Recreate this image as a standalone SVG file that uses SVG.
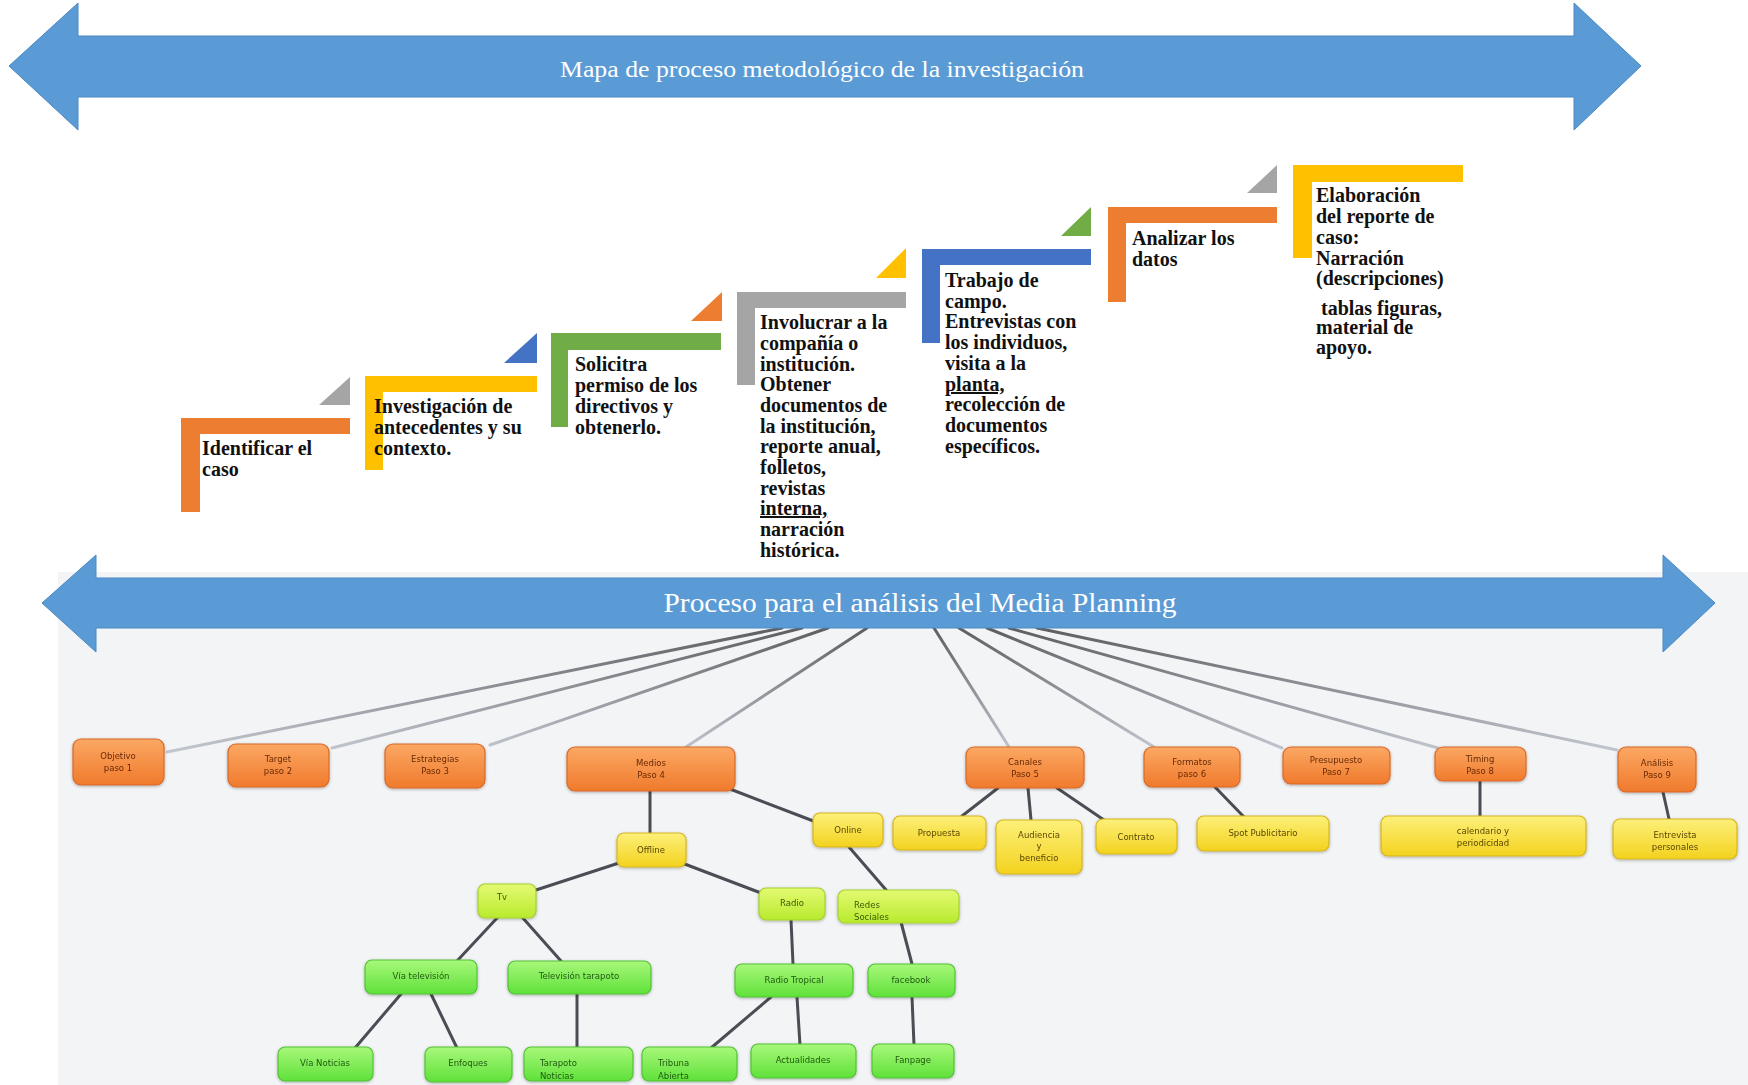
<svg xmlns="http://www.w3.org/2000/svg" width="1748" height="1085" viewBox="0 0 1748 1085">
<defs>
<style>
.arrow{fill:#5B9BD5;stroke:#4a88c4;stroke-width:1}
.atxt{font-family:"Liberation Serif","Times New Roman",serif;fill:#fff;text-anchor:middle}
.st{font-family:"Liberation Serif","Times New Roman",serif;font-size:20px;font-weight:bold;fill:#111}
.nt{font-family:"DejaVu Sans","Liberation Sans",sans-serif;font-size:8.5px;text-anchor:middle}
.ntl{font-family:"DejaVu Sans","Liberation Sans",sans-serif;font-size:8.5px}
.on rect{fill:url(#gOr);stroke:#d8692a;stroke-width:1.2}
.on text{fill:#6a2a05}
.yn rect{fill:url(#gYe);stroke:#d6b51e;stroke-width:1.2}
.yn text{fill:#5a4800}
.ln rect{fill:url(#gLi);stroke:#a4d12e;stroke-width:1.2}
.ln text{fill:#3d5a00}
.gn rect{fill:url(#gGr);stroke:#52c236;stroke-width:1.2}
.gn text{fill:#1f5a10}
.fan line{stroke:url(#gFan);stroke-width:3;stroke-linecap:round}
.tree line{stroke:#4b4d55;stroke-width:3;stroke-linecap:round}
</style>
<linearGradient id="gOr" x1="0" y1="0" x2="0" y2="1"><stop offset="0" stop-color="#fba864"/><stop offset="1" stop-color="#f07a2c"/></linearGradient>
<linearGradient id="gYe" x1="0" y1="0" x2="0" y2="1"><stop offset="0" stop-color="#fdf07a"/><stop offset="1" stop-color="#f3d21e"/></linearGradient>
<linearGradient id="gLi" x1="0" y1="0" x2="0" y2="1"><stop offset="0" stop-color="#e4fa72"/><stop offset="1" stop-color="#b8ea2e"/></linearGradient>
<linearGradient id="gGr" x1="0" y1="0" x2="0" y2="1"><stop offset="0" stop-color="#a8f87a"/><stop offset="1" stop-color="#5fe13a"/></linearGradient>
<linearGradient id="gFan" gradientUnits="userSpaceOnUse" x1="0" y1="628" x2="0" y2="760"><stop offset="0" stop-color="#5e5e62"/><stop offset="1" stop-color="#c9ced6"/></linearGradient>
<filter id="sh" x="-20%" y="-20%" width="140%" height="150%"><feDropShadow dx="0" dy="1" stdDeviation="1.5" flood-color="#000" flood-opacity="0.3"/></filter>
</defs>
<rect width="1748" height="1085" fill="#fff"/>
<rect x="58" y="572" width="1690" height="513" fill="#f3f4f6"/>

<g id="arrow-top">
<polygon class="arrow" points="9,66 78,3 78,36 1574,36 1574,3 1641,66 1574,130 1574,97 78,97 78,130"/>
<text class="atxt" x="822" y="77" font-size="24" textLength="524" lengthAdjust="spacingAndGlyphs">Mapa de proceso metodológico de la investigación</text>
</g>

<g id="step1">
<rect x="181" y="418" width="169" height="16" fill="#ED7D31"/>
<rect x="181" y="418" width="19" height="94" fill="#ED7D31"/>
<polygon points="319,405 350,405 350,377" fill="#A5A5A5"/>
<text class="st"><tspan x="202" y="455">Identificar el</tspan><tspan x="202" y="476">caso</tspan></text>
</g>
<g id="step2">
<rect x="365" y="376" width="172" height="16" fill="#FFC000"/>
<rect x="365" y="376" width="18" height="94" fill="#FFC000"/>
<polygon points="504,363 537,363 537,333" fill="#4472C4"/>
<text class="st"><tspan x="374" y="413">Investigación de</tspan><tspan x="374" y="434">antecedentes y su</tspan><tspan x="374" y="455">contexto.</tspan></text>
</g>
<g id="step3">
<rect x="551" y="333" width="170" height="17" fill="#70AD47"/>
<rect x="551" y="333" width="17" height="94" fill="#70AD47"/>
<polygon points="691,321 722,321 722,292" fill="#ED7D31"/>
<text class="st"><tspan x="575" y="371">Solicitra</tspan><tspan x="575" y="392">permiso de los</tspan><tspan x="575" y="413">directivos y</tspan><tspan x="575" y="434">obtenerlo.</tspan></text>
</g>
<g id="step4">
<rect x="737" y="292" width="169" height="16" fill="#A5A5A5"/>
<rect x="737" y="292" width="18" height="93" fill="#A5A5A5"/>
<polygon points="876,278 906,278 906,248" fill="#FFC000"/>
<text class="st"><tspan x="760" y="329">Involucrar a la</tspan><tspan x="760" y="350">compañía o</tspan><tspan x="760" y="371">institución.</tspan><tspan x="760" y="391">Obtener</tspan><tspan x="760" y="412">documentos de</tspan><tspan x="760" y="433">la institución,</tspan><tspan x="760" y="453">reporte anual,</tspan><tspan x="760" y="474">folletos,</tspan><tspan x="760" y="495">revistas</tspan><tspan x="760" y="515" text-decoration="underline">interna,</tspan><tspan x="760" y="536">narración</tspan><tspan x="760" y="557">histórica.</tspan></text>
</g>
<g id="step5">
<rect x="922" y="249" width="169" height="16" fill="#4472C4"/>
<rect x="922" y="249" width="18" height="94" fill="#4472C4"/>
<polygon points="1061,236 1091,236 1091,207" fill="#70AD47"/>
<text class="st"><tspan x="945" y="287">Trabajo de</tspan><tspan x="945" y="308">campo.</tspan><tspan x="945" y="328">Entrevistas con</tspan><tspan x="945" y="349">los individuos,</tspan><tspan x="945" y="370">visita a la</tspan><tspan x="945" y="391" text-decoration="underline">planta,</tspan><tspan x="945" y="411">recolección de</tspan><tspan x="945" y="432">documentos</tspan><tspan x="945" y="453">específicos.</tspan></text>
</g>
<g id="step6">
<rect x="1108" y="207" width="169" height="16" fill="#ED7D31"/>
<rect x="1108" y="207" width="18" height="95" fill="#ED7D31"/>
<polygon points="1247,193 1277,193 1277,165" fill="#A5A5A5"/>
<text class="st"><tspan x="1132" y="245">Analizar los</tspan><tspan x="1132" y="266">datos</tspan></text>
</g>
<g id="step7">
<rect x="1293" y="165" width="170" height="17" fill="#FFC000"/>
<rect x="1293" y="165" width="19" height="93" fill="#FFC000"/>
<text class="st"><tspan x="1316" y="202">Elaboración</tspan><tspan x="1316" y="223">del reporte de</tspan><tspan x="1316" y="244">caso:</tspan><tspan x="1316" y="265">Narración</tspan><tspan x="1316" y="285">(descripciones)</tspan><tspan x="1316" y="315"> tablas figuras,</tspan><tspan x="1316" y="334">material de</tspan><tspan x="1316" y="354">apoyo.</tspan></text>
</g>

<g id="connectors">
<g class="fan">
<line x1="782" y1="628" x2="167" y2="752"/>
<line x1="802" y1="628" x2="332" y2="748"/>
<line x1="828" y1="628" x2="490" y2="745"/>
<line x1="867" y1="628" x2="686" y2="747"/>
<line x1="934" y1="628" x2="1009" y2="747"/>
<line x1="959" y1="628" x2="1154" y2="747"/>
<line x1="987" y1="628" x2="1282" y2="748"/>
<line x1="1009" y1="628" x2="1438" y2="748"/>
<line x1="1037" y1="628" x2="1617" y2="750"/>
</g>
<g class="tree">
<line x1="650" y1="791" x2="650" y2="833"/>
<line x1="730" y1="789" x2="816" y2="822"/>
<line x1="622" y1="862" x2="536" y2="890"/>
<line x1="682" y1="863" x2="761" y2="893"/>
<line x1="849" y1="847" x2="887" y2="891"/>
<line x1="498" y1="917" x2="457" y2="961"/>
<line x1="522" y1="917" x2="561" y2="961"/>
<line x1="401" y1="994" x2="355" y2="1048"/>
<line x1="431" y1="994" x2="457" y2="1048"/>
<line x1="577" y1="994" x2="577" y2="1048"/>
<line x1="791" y1="920" x2="793" y2="964"/>
<line x1="771" y1="997" x2="711" y2="1048"/>
<line x1="797" y1="997" x2="800" y2="1045"/>
<line x1="901" y1="922" x2="912" y2="964"/>
<line x1="912" y1="997" x2="914" y2="1045"/>
<line x1="998" y1="788" x2="962" y2="816"/>
<line x1="1028" y1="788" x2="1031" y2="820"/>
<line x1="1057" y1="788" x2="1104" y2="820"/>
<line x1="1215" y1="787" x2="1244" y2="817"/>
<line x1="1480" y1="781" x2="1480" y2="817"/>
<line x1="1663" y1="792" x2="1669" y2="819"/>
</g>
</g>

<g id="arrow-bottom">
<polygon class="arrow" points="42,603 96,555 96,578 1663,578 1663,555 1715,603 1663,652 1663,628 96,628 96,652"/>
<text class="atxt" x="920" y="612" font-size="28" textLength="513" lengthAdjust="spacingAndGlyphs">Proceso para el análisis del Media Planning</text>
</g>

<g id="n-objetivo" class="on" filter="url(#sh)"><rect x="73" y="739" width="91" height="46" rx="8"/><text class="nt"><tspan x="118" y="759">Objetivo</tspan><tspan x="118" y="771">paso 1</tspan></text></g>
<g id="n-target" class="on" filter="url(#sh)"><rect x="228" y="744" width="101" height="43" rx="8"/><text class="nt"><tspan x="278" y="762">Target</tspan><tspan x="278" y="774">paso 2</tspan></text></g>
<g id="n-estrategias" class="on" filter="url(#sh)"><rect x="385" y="744" width="100" height="44" rx="8"/><text class="nt"><tspan x="435" y="762">Estrategias</tspan><tspan x="435" y="774">Paso 3</tspan></text></g>
<g id="n-medios" class="on" filter="url(#sh)"><rect x="567" y="747" width="168" height="44" rx="8"/><text class="nt"><tspan x="651" y="766">Medios</tspan><tspan x="651" y="778">Paso 4</tspan></text></g>
<g id="n-canales" class="on" filter="url(#sh)"><rect x="966" y="747" width="118" height="41" rx="8"/><text class="nt"><tspan x="1025" y="765">Canales</tspan><tspan x="1025" y="777">Paso 5</tspan></text></g>
<g id="n-formatos" class="on" filter="url(#sh)"><rect x="1144" y="747" width="96" height="40" rx="8"/><text class="nt"><tspan x="1192" y="765">Formatos</tspan><tspan x="1192" y="777">paso 6</tspan></text></g>
<g id="n-presupuesto" class="on" filter="url(#sh)"><rect x="1283" y="747" width="107" height="37" rx="8"/><text class="nt"><tspan x="1336" y="763">Presupuesto</tspan><tspan x="1336" y="775">Paso 7</tspan></text></g>
<g id="n-timing" class="on" filter="url(#sh)"><rect x="1435" y="747" width="91" height="34" rx="8"/><text class="nt"><tspan x="1480" y="762">Timing</tspan><tspan x="1480" y="774">Paso 8</tspan></text></g>
<g id="n-analisis" class="on" filter="url(#sh)"><rect x="1618" y="747" width="78" height="45" rx="8"/><text class="nt"><tspan x="1657" y="766">Análisis</tspan><tspan x="1657" y="778">Paso 9</tspan></text></g>

<g id="n-offline" class="yn" filter="url(#sh)"><rect x="617" y="833" width="69" height="34" rx="7"/><text class="nt" x="651" y="853">Offline</text></g>
<g id="n-online" class="yn" filter="url(#sh)"><rect x="813" y="813" width="70" height="34" rx="7"/><text class="nt" x="848" y="833">Online</text></g>
<g id="n-propuesta" class="yn" filter="url(#sh)"><rect x="893" y="816" width="93" height="34" rx="7"/><text class="nt" x="939" y="836">Propuesta</text></g>
<g id="n-audiencia" class="yn" filter="url(#sh)"><rect x="996" y="820" width="86" height="54" rx="7"/><text class="nt"><tspan x="1039" y="838">Audiencia</tspan><tspan x="1039" y="849">y</tspan><tspan x="1039" y="861">beneficio</tspan></text></g>
<g id="n-contrato" class="yn" filter="url(#sh)"><rect x="1096" y="819" width="81" height="35" rx="7"/><text class="nt" x="1136" y="840">Contrato</text></g>
<g id="n-spot" class="yn" filter="url(#sh)"><rect x="1197" y="816" width="132" height="35" rx="7"/><text class="nt" x="1263" y="836">Spot Publicitario</text></g>
<g id="n-calendario" class="yn" filter="url(#sh)"><rect x="1381" y="816" width="205" height="40" rx="7"/><text class="nt"><tspan x="1483" y="834">calendario y</tspan><tspan x="1483" y="846">periodicidad</tspan></text></g>
<g id="n-entrevista" class="yn" filter="url(#sh)"><rect x="1613" y="819" width="124" height="40" rx="7"/><text class="nt"><tspan x="1675" y="838">Entrevista</tspan><tspan x="1675" y="850">personales</tspan></text></g>

<g id="n-tv" class="ln" filter="url(#sh)"><rect x="478" y="884" width="58" height="34" rx="7"/><text class="nt" x="502" y="900">Tv</text></g>
<g id="n-radio" class="ln" filter="url(#sh)"><rect x="759" y="888" width="66" height="32" rx="7"/><text class="nt" x="792" y="906">Radio</text></g>
<g id="n-redes" class="ln" filter="url(#sh)"><rect x="838" y="890" width="121" height="33" rx="7"/><text class="ntl"><tspan x="854" y="908">Redes</tspan><tspan x="854" y="920">Sociales</tspan></text></g>

<g id="n-viatv" class="gn" filter="url(#sh)"><rect x="365" y="960" width="112" height="34" rx="7"/><text class="nt" x="421" y="979">Vía televisión</text></g>
<g id="n-teletar" class="gn" filter="url(#sh)"><rect x="508" y="961" width="143" height="33" rx="7"/><text class="nt" x="579" y="979">Televisión tarapoto</text></g>
<g id="n-radiotrop" class="gn" filter="url(#sh)"><rect x="735" y="964" width="118" height="33" rx="7"/><text class="nt" x="794" y="983">Radio Tropical</text></g>
<g id="n-facebook" class="gn" filter="url(#sh)"><rect x="868" y="964" width="87" height="33" rx="7"/><text class="nt" x="911" y="983">facebook</text></g>
<g id="n-vianot" class="gn" filter="url(#sh)"><rect x="278" y="1047" width="95" height="34" rx="7"/><text class="nt" x="325" y="1066">Vía Noticias</text></g>
<g id="n-enfoques" class="gn" filter="url(#sh)"><rect x="425" y="1047" width="87" height="35" rx="7"/><text class="nt" x="468" y="1066">Enfoques</text></g>
<g id="n-tarnot" class="gn" filter="url(#sh)"><rect x="524" y="1047" width="109" height="34" rx="7"/><text class="ntl"><tspan x="540" y="1066">Tarapoto</tspan><tspan x="540" y="1079">Noticias</tspan></text></g>
<g id="n-tribuna" class="gn" filter="url(#sh)"><rect x="642" y="1047" width="95" height="34" rx="7"/><text class="ntl"><tspan x="658" y="1066">Tribuna</tspan><tspan x="658" y="1079">Abierta</tspan></text></g>
<g id="n-actualidades" class="gn" filter="url(#sh)"><rect x="751" y="1044" width="105" height="34" rx="7"/><text class="nt" x="803" y="1063">Actualidades</text></g>
<g id="n-fanpage" class="gn" filter="url(#sh)"><rect x="872" y="1044" width="82" height="34" rx="7"/><text class="nt" x="913" y="1063">Fanpage</text></g>
</svg>
